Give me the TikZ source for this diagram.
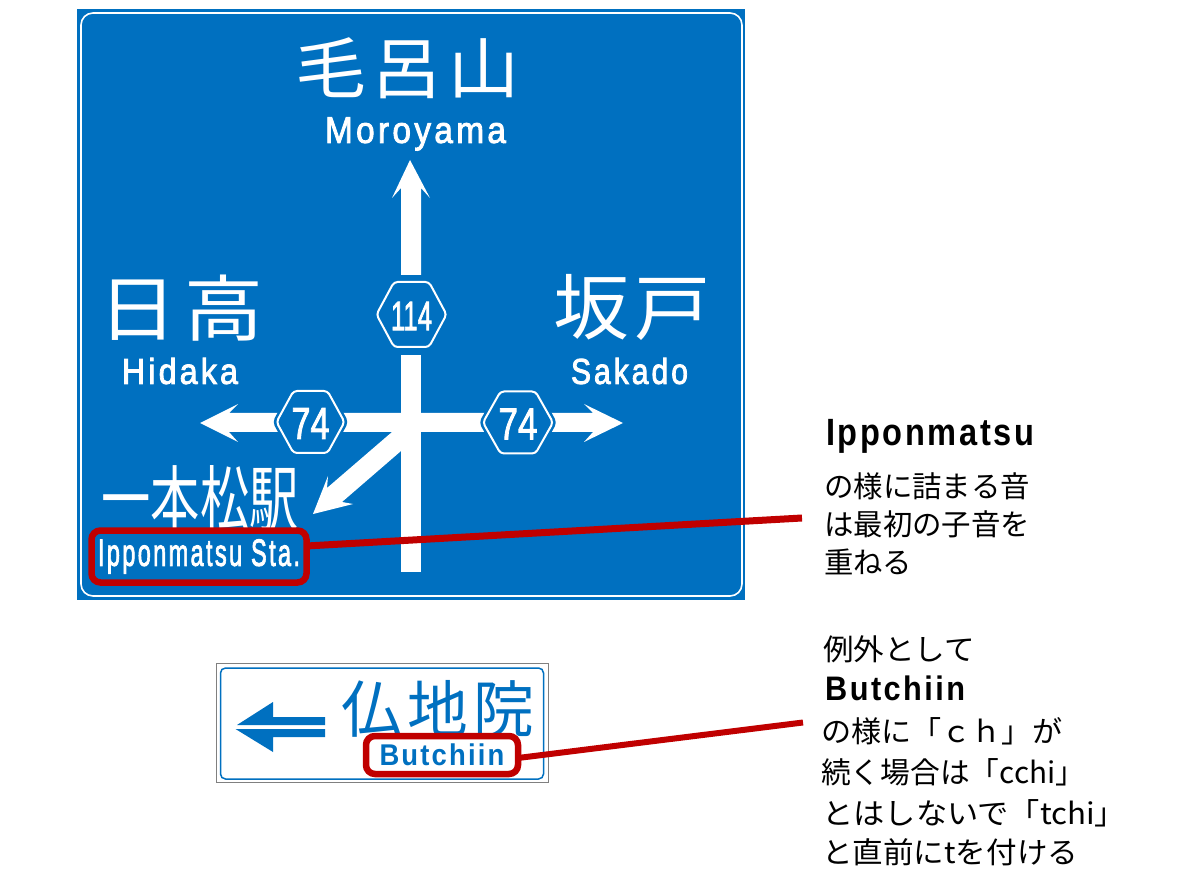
\documentclass[tikz,border=0pt]{standalone}
\usepackage{fontspec}
\setmainfont{Liberation Sans}
\newfontfamily\jpf{Noto Sans CJK JP}
\newfontfamily\jpspaced[LetterSpace=8]{Noto Sans CJK JP}
\newfontfamily\latf[LetterSpace=8]{Liberation Sans}
\newfontfamily\latm[LetterSpace=10,FakeBold=2.5]{Liberation Sans}
\newfontfamily\numf[FakeBold=2.2]{Liberation Sans}
\definecolor{signblue}{RGB}{0,112,192}
\definecolor{callred}{RGB}{192,0,0}
\newcommand\fitw[3]{\resizebox{#1pt}{\height}{\fontsize{#2}{#2}\selectfont #3}}
\tikzset{
  lab/.style={inner sep=0pt,outer sep=0pt,text=white},
  bluelab/.style={lab,text=signblue},
  jpline/.style={inner sep=0pt,anchor=west,text=black},
  callbox/.style={draw=callred,line width=6.5pt,rounded corners=9pt,inner sep=0pt},
  callline/.style={draw=callred,line width=7pt},
  white shape/.style={fill=white,draw=none},
}
\newcommand\hexsign[6]{% name cx cy halfw halfh text
  \begin{scope}[shift={(#2,#3)}]
    \path[draw=signblue,line width=7pt,fill=signblue,rounded corners=3pt,line join=round]
      (-#4,0) -- (-#4*0.5,-#5) -- (#4*0.5,-#5) -- (#4,0) -- (#4*0.5,#5) -- (-#4*0.5,#5) -- cycle;
    \path[draw=white,line width=2pt,rounded corners=3.5pt]
      (-#4,0) -- (-#4*0.5,-#5) -- (#4*0.5,-#5) -- (#4,0) -- (#4*0.5,#5) -- (-#4*0.5,#5) -- cycle;
    \node[lab] (#1) at (0,1.5) {#6};
  \end{scope}}
\begin{document}
\begin{tikzpicture}[x=1pt,y=-1pt]
\useasboundingbox[fill=white] (0,0) rectangle (1200,882);
% large sign
\fill[signblue] (77,9) rectangle (745,600);
\draw[white,line width=1.6pt,rounded corners=12pt] (81,13) rectangle (742,596);
% arrows
\path[white shape] (410,160) -- (430,198) -- (421,188) -- (421,275) -- (401,275) -- (401,188) -- (392,198) -- cycle;
\path[white shape] (401,355) rectangle (421,572);
\path[white shape] (200,423) -- (238,404) -- (229,413) -- (553,413) -- (593,413) -- (584,404) -- (623,423) -- (584,442) -- (593,432) -- (229,432) -- (238,442) -- cycle;
\path[white shape] (392,432) -- (327,488) -- (328,476) -- (313,514) -- (353,504) -- (342,502) -- (401,451) -- (401,432) -- cycle;
\hexsign{hexn}{411.5}{314.5}{35}{32.5}{\fitw{41}{41}{\numf 114}}
\hexsign{hexl}{310.5}{422}{34}{31}{\fitw{38}{45}{\numf 74}}
\hexsign{hexr}{518}{422.5}{35}{31}{\fitw{39}{45}{\numf 74}}
% labels
\node[lab] (moroj) at (407,68) {\fitw{224}{67}{\jpspaced 毛呂山}};
\node[lab] (moroe) at (415.5,134) {\fitw{181}{37}{\latm Moroyama}};
\node[lab] (hidj) at (181,308) {\fitw{164}{72}{\jpspaced 日高}};
\node[lab] (hide) at (180,371) {\fitw{116}{36}{\latm Hidaka}};
\node[lab] (sakj) at (632,307) {\fitw{158}{72}{\jpspaced 坂戸}};
\node[lab] (sake) at (629.5,371) {\fitw{117}{36}{\latm Sakado}};
\node[lab] (ipj) at (200,498) {\resizebox{197pt}{60pt}{\fontsize{60}{60}\selectfont\jpf 一本松駅}};
% callout box 1
\node[callbox,lab,minimum width=215pt,minimum height=52pt] (ipbox) at (199,556.5) {\fitw{202}{38}{\latm Ipponmatsu Sta.}};
\coordinate (ipend) at (802,518);
\draw[callline] ([yshift=10.5pt]ipbox.east) -- (ipend);
% small sign
\draw[gray,line width=1pt] (216,663) rectangle (548,782);
\draw[signblue,line width=1.5pt,rounded corners=5pt] (220.5,668) rectangle (543.5,779);
\path[fill=signblue] (237,725) -- (273,702) -- (273,717) -- (325,717) -- (325,725) -- cycle;
\path[fill=signblue] (235.5,729) -- (325,729) -- (325,737) -- (273,737) -- (273,752) -- cycle;
\node[bluelab] (butj) at (438,709) {\fitw{192}{62}{\jpspaced 仏地院}};
\node[callbox,bluelab,fill=white,minimum width=152pt,minimum height=38pt] (butbox) at (442,755) {\fitw{125}{30}{\latf\bfseries Butchiin}};
\coordinate (butend) at (803,722.5);
\draw[callline,line width=6pt] ([yshift=-3pt]butbox.east) -- (butend);
% right text
\node[jpline,text=black] (t1) at (826,436) {\fitw{208}{38}{\latf\bfseries Ipponmatsu}};
\node[jpline] (t2) at (824,486) {\fitw{206}{29.5}{\jpf の様に詰まる音}};
\node[jpline] (t3) at (824,524) {\fitw{206}{29.5}{\jpf は最初の子音を}};
\node[jpline] (t4) at (824,562) {\fitw{88}{29.5}{\jpf 重ねる}};
\node[jpline] (t5) at (823,649) {\fitw{152}{29.5}{\jpf 例外として}};
\node[jpline] (t6) at (825,688) {\fitw{140}{34}{\latf\bfseries Butchiin}};
\node[jpline] (t7) at (821,731) {\fitw{241}{29.5}{\jpf の様に「ｃｈ」が}};
\node[jpline] (t8) at (821,772) {\fitw{264}{29.5}{\jpf 続く場合は「cchi」}};
\node[jpline] (t9) at (822,813) {\fitw{304}{29.5}{\jpf とはしないで「tchi」}};
\node[jpline] (t10) at (822,852) {\fitw{256}{29.5}{\jpf と直前にtを付ける}};
\end{tikzpicture}
\end{document}
